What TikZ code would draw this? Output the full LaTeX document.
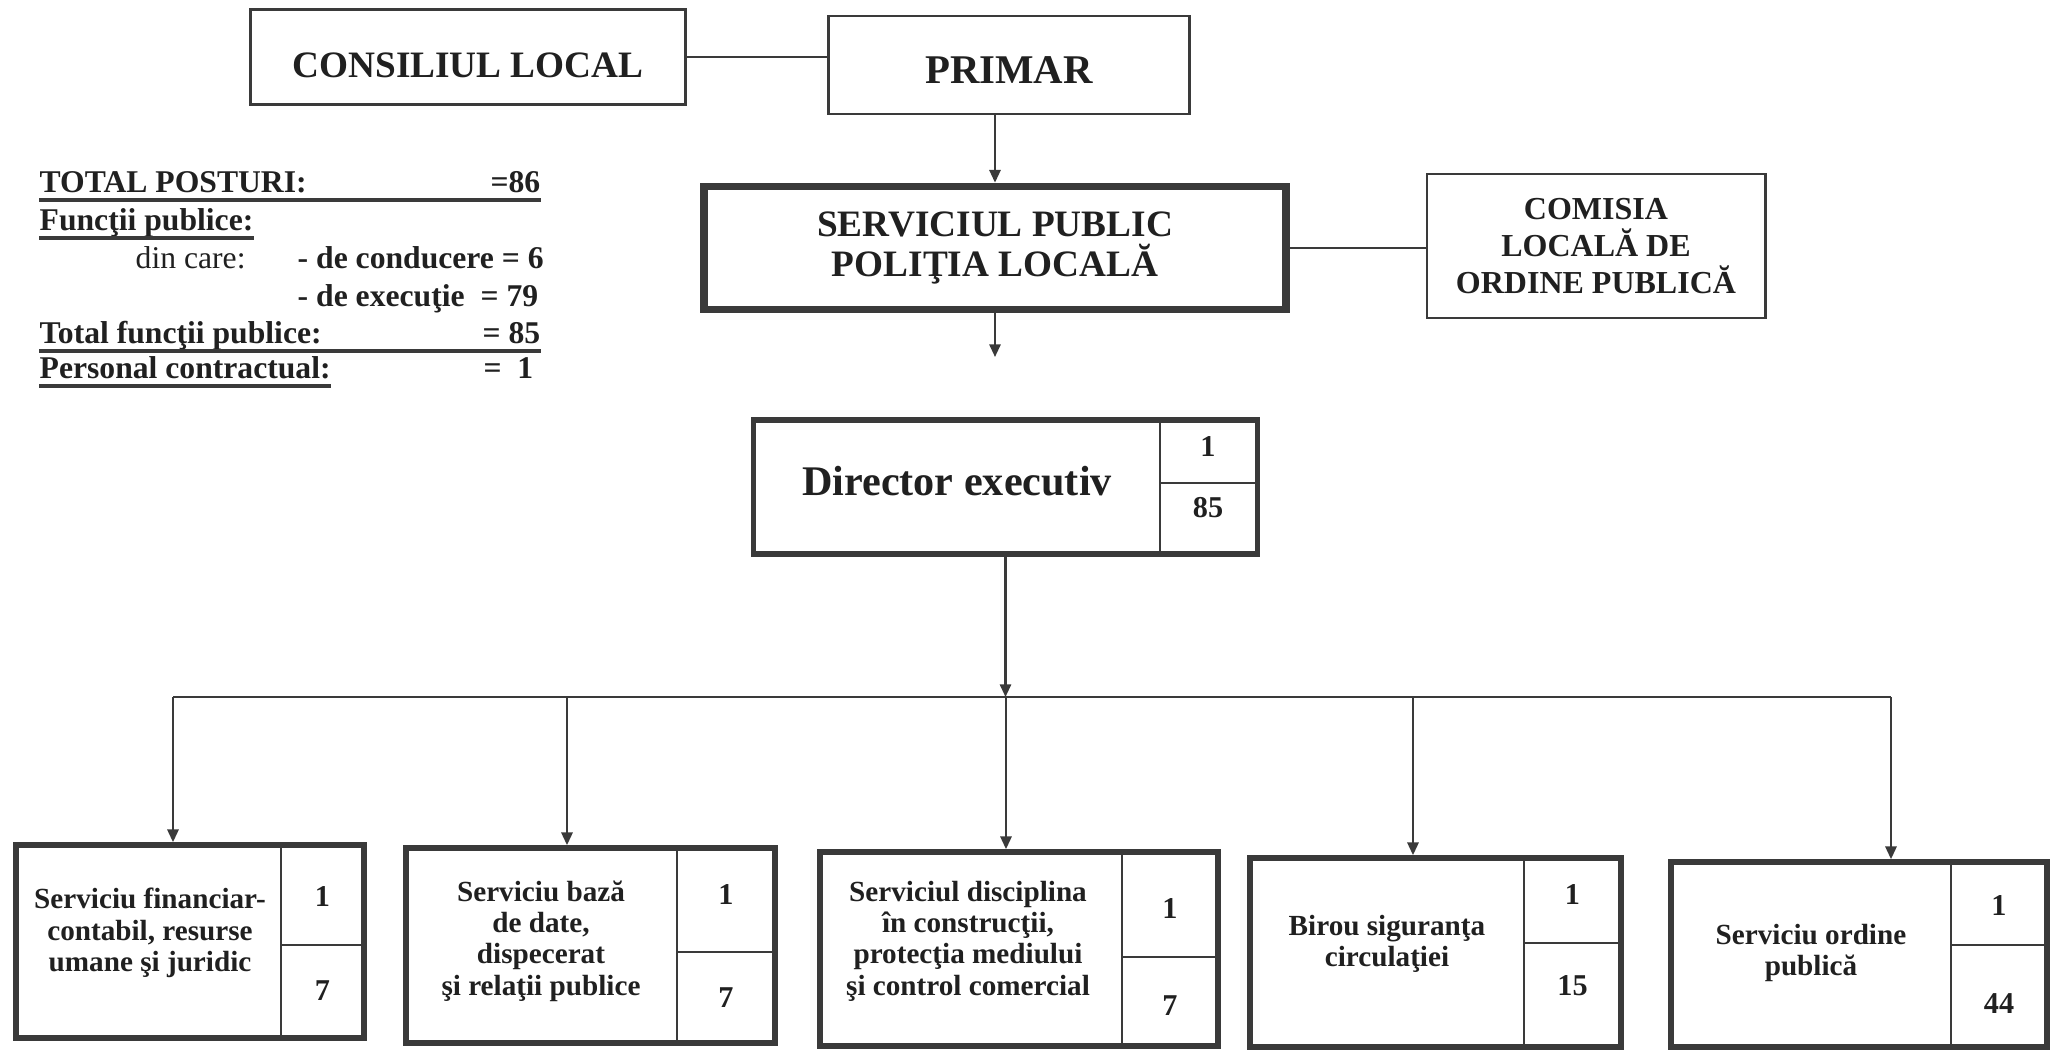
\documentclass[tikz,border=0pt]{standalone}
\usepackage{fontspec}
\setmainfont{Liberation Serif}
\usepackage{tikz}
\usetikzlibrary{arrows.meta}

\definecolor{ink}{HTML}{202020}
\definecolor{rule}{HTML}{3A3A3A}

\begin{document}
\begin{tikzpicture}[
  x=0.01cm, y=-0.01cm,
  box/.style={draw=rule, line width=0.8pt, align=center, inner sep=0pt, text=ink, font=\fontsize{10.6}{11.2}\selectfont\bfseries},
  heavybox/.style={box, line width=2.2pt},
  unitbox/.style={draw=rule, line width=1.6pt, inner sep=0pt},
  unittext/.style={align=center, text=ink, inner sep=0pt, font=\fontsize{8.3}{8.9}\selectfont\bfseries},
  num/.style={text=ink, inner sep=0pt, font=\fontsize{8.6}{9}\selectfont\bfseries},
  info/.style={text=ink, inner sep=0pt, font=\fontsize{9}{10}\selectfont\bfseries},
  cell/.style={draw=rule, line width=0.6pt},
  link/.style={draw=rule, line width=0.6pt},
  arr/.style={link, -{Triangle[length=3.6pt, width=3.2pt]}},
  uline/.style={draw=rule, line width=1.1pt}
]
\useasboundingbox (0,0) rectangle (2053,1051);

% top of the chart
\node[box, minimum width=4.34cm, minimum height=0.95cm, text height=11.6pt, text depth=0pt] (cl) at (468,57) {CONSILIUL LOCAL};
\node[box, minimum width=3.60cm, minimum height=0.98cm, text height=10.8pt, text depth=0pt, font=\fontsize{11.6}{12}\selectfont\bfseries] (pr) at (1009,65) {PRIMAR};
\node[heavybox, minimum width=5.82cm, minimum height=1.23cm] (sppl) at (995,248) {SERVICIUL PUBLIC\\POLIŢIA LOCALĂ};
\node[box, minimum width=3.38cm, minimum height=1.44cm, font=\fontsize{9.1}{10.6}\selectfont\bfseries] (clop) at (1596,246) {COMISIA\\LOCALĂ DE\\ORDINE PUBLICĂ};
\coordinate (sdown) at (995,357);

\draw[link] (cl.east) -- (cl.east -| pr.west);
\draw[arr] (pr.south -| sppl.north) -- (sppl.north);
\draw[link] (sppl.east) -- (sppl.east -| clop.west);
\draw[arr] (sppl.south) -- (sdown);

% totals
\node[info, anchor=base west] (tot) at (39,192) {TOTAL POSTURI:};
\node[info, anchor=base east] (totv) at (541,192) {=86};
\node[info, anchor=base west] (fp) at (39,230) {Funcţii publice:};
\node[info, anchor=base west, font=\fontsize{9}{10}\selectfont] (dc) at (135,268) {din care:};
\node[info, anchor=base west] (cond) at (297,268) {- de conducere = 6};
\node[info, anchor=base west] (exe) at (297,306) {- de execuţie};
\node[info, anchor=base east] (exev) at (539,306) {= 79};
\node[info, anchor=base west] (tf) at (39,343) {Total funcţii publice:};
\node[info, anchor=base east] (tfv) at (541,343) {= 85};
\node[info, anchor=base west] (pc) at (39,378) {Personal contractual:};
\node[info, anchor=base east] (pcv) at (534,378) {=\ \ 1};
\draw[uline] ([yshift=-2.3pt]tot.base west) -- ([yshift=-2.3pt]tot.base west -| totv.base east);
\draw[uline] ([yshift=-2.3pt]fp.base west) -- ([yshift=-2.3pt]fp.base east);
\draw[uline] ([yshift=-2.3pt]tf.base west) -- ([yshift=-2.3pt]tf.base west -| tfv.base east);
\draw[uline] ([yshift=-2.3pt]pc.base west) -- ([yshift=-2.3pt]pc.base east);

% director
\node[unitbox, line width=1.5pt, minimum width=5.03cm, minimum height=1.34cm] (dir) at (1005.5,487) {};
\draw[cell] (1160,420) -- (1160,554) (1160,483) -- (1257,483);
\node[unittext, font=\fontsize{12}{13}\selectfont\bfseries] (dirt) at (957,481) {Director executiv};
\node[num] (dira) at (1208,447) {1};
\node[num] (dirb) at (1208,508) {85};

% bus
\coordinate (d1) at (173,697);
\coordinate (d2) at (567,697);
\coordinate (d3) at (1006,697);
\coordinate (d4) at (1413,697);
\coordinate (d5) at (1891,697);
\draw[arr] (dir.south) -- (dir.south |- d3);
\draw[link] (d1) -- (d5);

% services
\node[unitbox, minimum width=3.48cm, minimum height=1.93cm] (u1) at (190,941.5) {};
\draw[cell] (281,845) -- (281,1038) (281,945) -- (364,945);
\node[unittext] (u1t) at (150,933) {Serviciu financiar-\\contabil, resurse\\umane şi juridic};
\node[num] (u1a) at (322.5,897) {1};
\node[num] (u1b) at (322.5,991) {7};

\node[unitbox, minimum width=3.69cm, minimum height=1.95cm] (u2) at (590.5,945.5) {};
\draw[cell] (677,848) -- (677,1043) (677,952) -- (775,952);
\node[unittext] (u2t) at (541,941) {Serviciu bază\\de date,\\dispecerat\\şi relaţii publice};
\node[num] (u2a) at (726,895) {1};
\node[num] (u2b) at (726,998) {7};

\node[unitbox, minimum width=3.98cm, minimum height=1.94cm] (u3) at (1019,949) {};
\draw[cell] (1122,852) -- (1122,1046) (1122,957) -- (1218,957);
\node[unittext] (u3t) at (968,941) {Serviciul disciplina\\în construcţii,\\protecţia mediului\\şi control comercial};
\node[num] (u3a) at (1170,909) {1};
\node[num] (u3b) at (1170,1006) {7};

\node[unitbox, minimum width=3.71cm, minimum height=1.89cm] (u4) at (1435.5,952.5) {};
\draw[cell] (1524,858) -- (1524,1047) (1524,943) -- (1621,943);
\node[unittext] (u4t) at (1387,944) {Birou siguranţa\\circulaţiei};
\node[num] (u4a) at (1572.5,895) {1};
\node[num] (u4b) at (1572.5,986) {15};

\node[unitbox, minimum width=3.76cm, minimum height=1.85cm] (u5) at (1859,954.5) {};
\draw[cell] (1951,862) -- (1951,1047) (1951,945) -- (2047,945);
\node[unittext] (u5t) at (1811,953) {Serviciu ordine\\publică};
\node[num] (u5a) at (1999,906) {1};
\node[num] (u5b) at (1999,1004) {44};

\draw[arr] (d1) -- (d1 |- u1.north);
\draw[arr] (d2) -- (d2 |- u2.north);
\draw[arr] (d3) -- (d3 |- u3.north);
\draw[arr] (d4) -- (d4 |- u4.north);
\draw[arr] (d5) -- (d5 |- u5.north);
\end{tikzpicture}
\end{document}
